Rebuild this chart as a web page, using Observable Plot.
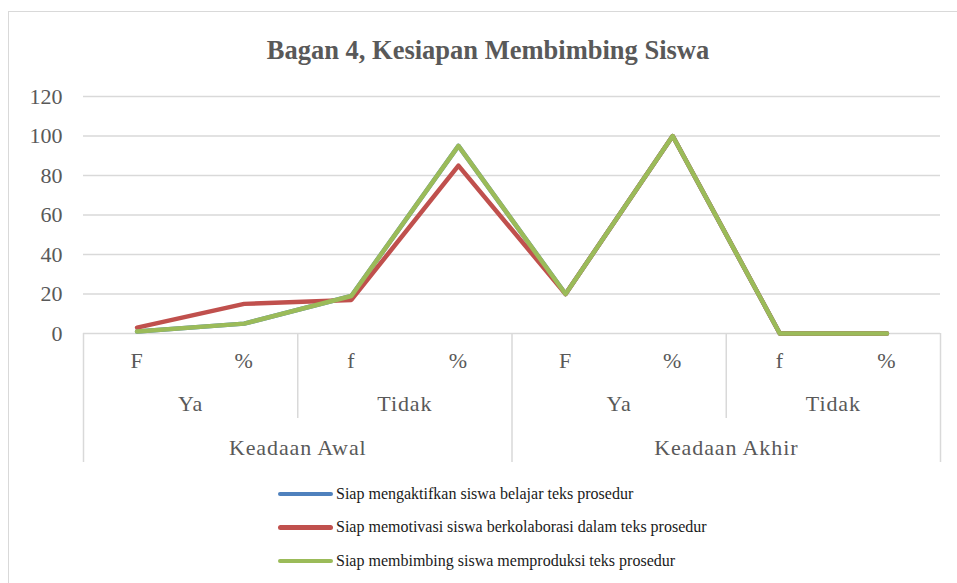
<!DOCTYPE html>
<html>
<head>
<meta charset="utf-8">
<script src="https://cdn.jsdelivr.net/npm/d3@7"></script>
<script src="https://cdn.jsdelivr.net/npm/@observablehq/plot@0.6"></script>
<style>
  html, body { margin: 0; padding: 0; background: #fff; }
  #page { position: relative; width: 957px; height: 583px; overflow: hidden; font-family: "Liberation Serif", "Times New Roman", serif; }
  #frame { position: absolute; left: 8px; top: 11px; width: 1000px; height: 620px; border: 1.5px solid #d9d9d9; box-sizing: border-box; }
  #title { position: absolute; left: 0; width: 976px; top: 33px; text-align: center; font-weight: bold; font-size: 26.5px; color: #595959; line-height: 34px; font-family: "Liberation Serif", serif; }
  #chart { position: absolute; left: 0; top: 70px; }
  #chart svg text { font-family: "Liberation Serif", serif !important; }
  .cat text { letter-spacing: 0.9px; }
  #legend { position: absolute; left: 278px; top: 477px; }
  .row { display: flex; align-items: center; height: 33.5px; }
  .swatch { width: 55px; height: 4.5px; border-radius: 3px; margin-right: 3px; }
  .lab { font-size: 16px; color: #1a1a1a; white-space: nowrap; font-family: "Liberation Serif", serif; }
</style>
</head>
<body>
<div id="page">
  <div id="frame"></div>
  <div id="title"></div>
  <div id="chart"></div>
  <div id="legend"></div>
</div>
<script>
const titleText = "Bagan 4, Kesiapan Membimbing Siswa";
const categories = ["F", "%", "f", "%", "F", "%", "f", "%"];
const subgroups = ["Ya", "Ya", "Tidak", "Tidak", "Ya", "Ya", "Tidak", "Tidak"];
const groups = ["Keadaan Awal", "Keadaan Awal", "Keadaan Awal", "Keadaan Awal",
                "Keadaan Akhir", "Keadaan Akhir", "Keadaan Akhir", "Keadaan Akhir"];
const seriesNames = [
  "Siap mengaktifkan siswa belajar teks prosedur",
  "Siap memotivasi siswa berkolaborasi dalam teks prosedur",
  "Siap membimbing siswa memproduksi teks prosedur"
];
const seriesColors = ["#4F81BD", "#C0504D", "#9BBB59"];
const blueValues = [1, 5, 19, 95, 20, 100, 0, 0];
const redValues = [3, 15, 17, 85, 20, 100, 0, 0];
const greenValues = [1, 5, 19, 95, 20, 100, 0, 0];
const yTicks = [0, 20, 40, 60, 80, 100, 120];

document.getElementById("title").textContent = titleText;

const allValues = [blueValues, redValues, greenValues];
const table = [];
allValues.forEach((vals, s) => vals.forEach((v, i) => table.push({series: seriesNames[s], i, value: v})));

const n = categories.length;
const idx = d3.range(n);

function spans(keyFn) {
  const out = [];
  let start = 0;
  for (let i = 1; i <= n; i++) {
    if (i === n || keyFn(i) !== keyFn(start)) {
      out.push({start, end: i, label: keyFn(start).split("|").pop()});
      start = i;
    }
  }
  return out;
}
const subSpans = spans(i => groups[i] + "|" + subgroups[i]);
const grpSpans = spans(i => groups[i]);
const outerBounds = Array.from(new Set(grpSpans.flatMap(s => [s.start, s.end])));
const innerBounds = Array.from(new Set(subSpans.flatMap(s => [s.start, s.end]))).filter(b => !outerBounds.includes(b));

const grey = "#d9d9d9";
const labelColor = "#595959";
const serif = "Liberation Serif";

const chart = Plot.plot({
  width: 957,
  height: 400,
  marginTop: 26,
  marginBottom: 137,
  marginLeft: 83,
  marginRight: 17,
  style: "background: transparent; font-family: 'Liberation Serif', serif; overflow: visible;",
  x: {domain: [0, n], axis: null},
  y: {domain: [0, 120], ticks: yTicks, tickSize: 0, tickPadding: 21, label: null, tickFormat: d => String(d)},
  color: {domain: seriesNames, range: seriesColors},
  marks: [
    Plot.ruleY(yTicks.filter(t => t > 0), {stroke: grey, strokeWidth: 1.3}),
    Plot.ruleY([0], {stroke: grey, strokeWidth: 1.5}),
    Plot.ruleX(outerBounds, {x: d => d, y1: () => 0, y2: () => 0, insetBottom: -129, stroke: grey, strokeWidth: 1.5}),
    Plot.ruleX(innerBounds, {x: d => d, y1: () => 0, y2: () => 0, insetBottom: -85, stroke: grey, strokeWidth: 1.5}),
    Plot.axisY({ticks: yTicks, tickSize: 0, tickPadding: 21, fontSize: 22, fill: labelColor, label: null, fontFamily: serif}),
    Plot.text(idx, {x: i => i + 0.5, text: i => categories[i], frameAnchor: "bottom", dy: 34, fontSize: 22, fill: labelColor, fontFamily: serif, className: "cat"}),
    Plot.text(subSpans, {x: s => (s.start + s.end) / 2, text: s => s.label, frameAnchor: "bottom", dy: 77, fontSize: 22, fill: labelColor, fontFamily: serif, className: "cat"}),
    Plot.text(grpSpans, {x: s => (s.start + s.end) / 2, text: s => s.label, frameAnchor: "bottom", dy: 121, fontSize: 22, fill: labelColor, fontFamily: serif, className: "cat"}),
    Plot.line(table, {x: d => d.i + 0.5, y: "value", z: "series", stroke: "series", strokeWidth: 4.5, strokeLinejoin: "round", strokeLinecap: "round"})
  ]
});
document.getElementById("chart").appendChild(chart);

const legend = document.getElementById("legend");
seriesNames.forEach((name, s) => {
  const row = document.createElement("div");
  row.className = "row";
  const sw = document.createElement("div");
  sw.className = "swatch";
  sw.style.background = seriesColors[s];
  const lab = document.createElement("span");
  lab.className = "lab";
  lab.textContent = name;
  row.appendChild(sw);
  row.appendChild(lab);
  legend.appendChild(row);
});
</script>
</body>
</html>
